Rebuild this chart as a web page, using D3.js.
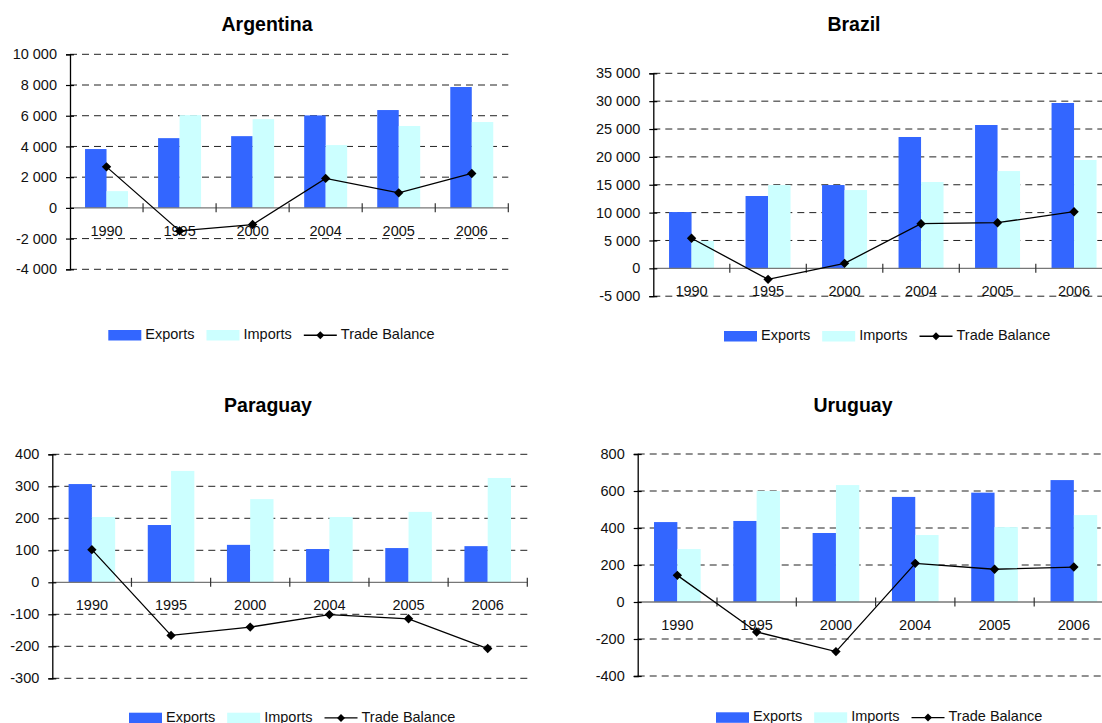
<!DOCTYPE html>
<html>
<head>
<meta charset="utf-8">
<script src="https://cdn.jsdelivr.net/npm/d3@7"></script>
<style>
  html, body { margin: 0; padding: 0; background: #fff; }
  svg { display: block; font-family: "Liberation Sans", Arial, sans-serif; }
</style>
</head>
<body>
<svg id="chart" width="1102" height="723"></svg>
<script>
// Trade figures per country (millions of US dollars)
const years = ["1990", "1995", "2000", "2004", "2005", "2006"];
const seriesNames = ["Exports", "Imports", "Trade Balance"];

const argentinaExports = [3830, 4540, 4670, 6020, 6370, 7870];
const argentinaImports = [1090, 6040, 5780, 4090, 5330, 5590];
const argentinaBalance = [2670, -1500, -1085, 1920, 980, 2240];
const argentinaTicks = [-4000, -2000, 0, 2000, 4000, 6000, 8000, 10000];

const brazilExports = [10100, 12980, 14950, 23570, 25720, 29670];
const brazilImports = [4900, 14950, 14050, 15490, 17460, 19440];
const brazilBalance = [5390, -1975, 900, 8010, 8190, 10160];
const brazilTicks = [-5000, 0, 5000, 10000, 15000, 20000, 25000, 30000, 35000];

const paraguayExports = [307, 179, 117, 104, 107, 113];
const paraguayImports = [204, 348, 260, 204, 220, 326];
const paraguayBalance = [102, -166, -140, -101, -114, -207];
const paraguayTicks = [-300, -200, -100, 0, 100, 200, 300, 400];

const uruguayExports = [432, 438, 373, 568, 591, 659];
const uruguayImports = [286, 600, 632, 362, 405, 470];
const uruguayBalance = [144, -162, -268, 209, 177, 189];
const uruguayTicks = [-400, -200, 0, 200, 400, 600, 800];

const colors = { exports: "#3366FF", imports: "#CCFFFF", line: "#000" };

// Panel placement on the page
const panels = [
  { title: "Argentina", exp: argentinaExports, imp: argentinaImports, bal: argentinaBalance, ticks: argentinaTicks,
    left: 70, right: 508.3, top: 54.3, bottom: 269.3, titleX: 267, titleY: 31, legendX: 108.3, legendY: 330 },
  { title: "Brazil", exp: brazilExports, imp: brazilImports, bal: brazilBalance, ticks: brazilTicks,
    left: 653.3, right: 1112.3, top: 73.3, bottom: 296.2, titleX: 854, titleY: 31, legendX: 724, legendY: 331 },
  { title: "Paraguay", exp: paraguayExports, imp: paraguayImports, bal: paraguayBalance, ticks: paraguayTicks,
    left: 52.3, right: 527.3, top: 454.3, bottom: 678.3, titleX: 268, titleY: 412, legendX: 129, legendY: 712.7 },
  { title: "Uruguay", exp: uruguayExports, imp: uruguayImports, bal: uruguayBalance, ticks: uruguayTicks,
    left: 637.7, right: 1113.5, top: 454, bottom: 676, titleX: 853, titleY: 412, legendX: 716, legendY: 712.3 }
];

const locale = d3.formatLocale({ decimal: ".", thousands: " ", grouping: [3], currency: ["", ""], minus: "-" });
const fmt = locale.format(",d");

const svg = d3.select("#chart");

panels.forEach(p => {
  const g = svg.append("g");
  const yMin = d3.min(p.ticks), yMax = d3.max(p.ticks);
  const y = d3.scaleLinear().domain([yMin, yMax]).range([p.bottom, p.top]);
  const x = d3.scaleBand().domain(years).range([p.left, p.right]).padding(0);
  const bw = x.bandwidth() / 3.4;
  const sub = d3.scaleBand().domain(["exp", "imp"]).range([0, 2 * bw]);
  const off = (x.bandwidth() - 2 * bw) / 2;

  // title
  g.append("text")
    .attr("x", p.titleX).attr("y", p.titleY)
    .attr("text-anchor", "middle")
    .attr("font-weight", "bold").attr("font-size", 19.5)
    .text(p.title);

  // dashed gridlines
  g.append("g").selectAll("line")
    .data(p.ticks.filter(t => t !== 0))
    .join("line")
    .attr("x1", p.left).attr("x2", p.right)
    .attr("y1", d => y(d)).attr("y2", d => y(d))
    .attr("stroke", "#222").attr("stroke-width", 1)
    .attr("stroke-dasharray", "7,5");

  // bars
  const rows = years.map((yr, i) => ({ year: yr, exp: p.exp[i], imp: p.imp[i], bal: p.bal[i] }));
  ["exp", "imp"].forEach(key => {
    g.append("g").selectAll("rect")
      .data(rows)
      .join("rect")
      .attr("x", d => x(d.year) + off + sub(key))
      .attr("width", sub.bandwidth())
      .attr("y", d => y(Math.max(0, d[key])))
      .attr("height", d => Math.abs(y(d[key]) - y(0)))
      .attr("fill", key === "exp" ? colors.exports : colors.imports);
  });

  // category axis along zero
  g.append("line")
    .attr("x1", p.left).attr("x2", p.right)
    .attr("y1", y(0)).attr("y2", y(0))
    .attr("stroke", "#777").attr("stroke-width", 1.3);
  const bounds = years.map(yr => x(yr)).concat([p.right]);
  g.append("g").selectAll("line")
    .data(bounds.slice(1))
    .join("line")
    .attr("x1", d => d).attr("x2", d => d)
    .attr("y1", y(0) - 4.5).attr("y2", y(0) + 4.5)
    .attr("stroke", "#333").attr("stroke-width", 1.2);
  g.append("g").selectAll("text")
    .data(years)
    .join("text")
    .attr("x", d => x(d) + x.bandwidth() / 2)
    .attr("y", y(0) + 28)
    .attr("text-anchor", "middle")
    .attr("font-size", 14.5)
    .attr("fill", "#111")
    .text(d => d);

  // value axis
  const axis = d3.axisLeft(y).tickValues(p.ticks).tickFormat(fmt).tickSize(4).tickPadding(9);
  const ag = g.append("g").attr("transform", `translate(${p.left},0)`).call(axis);
  ag.select(".domain").attr("stroke", "#000").attr("stroke-width", 1.3);
  ag.selectAll(".tick line").attr("x2", -4).attr("x1", 4).attr("stroke", "#000").attr("stroke-width", 1.2);
  ag.selectAll(".tick text")
    .attr("font-family", "Liberation Sans, Arial, sans-serif")
    .attr("font-size", 14.5).attr("fill", "#111");

  // trade balance line with diamond markers
  const line = d3.line().x(d => x(d.year) + x.bandwidth() / 2).y(d => y(d.bal));
  g.append("path")
    .datum(rows)
    .attr("d", line)
    .attr("fill", "none").attr("stroke", colors.line).attr("stroke-width", 1.3);
  const diamond = d3.symbol().type(d3.symbolDiamond2).size(56);
  g.append("g").selectAll("path")
    .data(rows)
    .join("path")
    .attr("transform", d => `translate(${x(d.year) + x.bandwidth() / 2},${y(d.bal)})`)
    .attr("d", diamond)
    .attr("fill", "#000");

  // legend
  const lg = g.append("g");
  let cx = p.legendX;
  const sw = 33, sh = 10.5;
  const legendDiamond = d3.symbol().type(d3.symbolDiamond2).size(40);
  seriesNames.forEach((name, i) => {
    if (i < 2) {
      lg.append("rect")
        .attr("x", cx).attr("y", p.legendY).attr("width", sw).attr("height", sh)
        .attr("fill", i === 0 ? colors.exports : colors.imports);
    } else {
      lg.append("line")
        .attr("x1", cx).attr("x2", cx + sw)
        .attr("y1", p.legendY + sh / 2).attr("y2", p.legendY + sh / 2)
        .attr("stroke", "#000").attr("stroke-width", 1.3);
      lg.append("path")
        .attr("transform", `translate(${cx + sw / 2},${p.legendY + sh / 2})`)
        .attr("d", legendDiamond).attr("fill", "#000");
    }
    const t = lg.append("text")
      .attr("x", cx + sw + 4).attr("y", p.legendY + 8.8)
      .attr("font-size", 14.5).attr("fill", "#111")
      .text(name);
    cx = cx + sw + 4 + t.node().getComputedTextLength() + 12;
  });
});
</script>
</body>
</html>
